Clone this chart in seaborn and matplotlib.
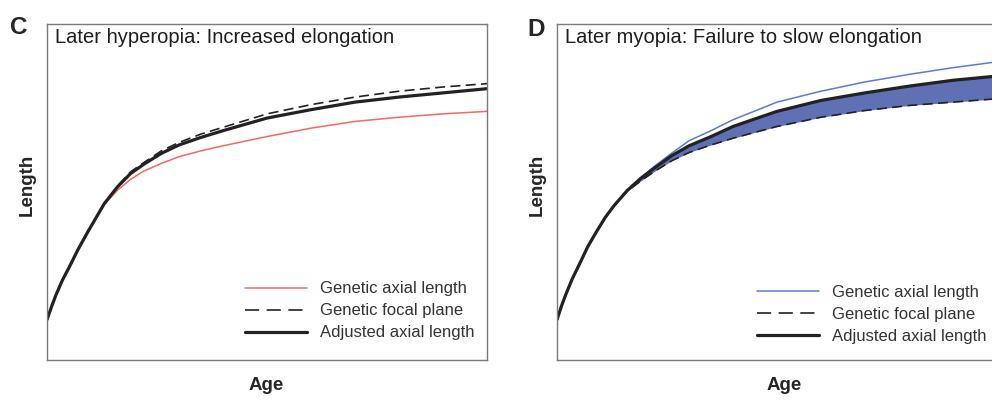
import numpy as np
import pandas as pd
import matplotlib
matplotlib.use("Agg")
import matplotlib.pyplot as plt
import seaborn as sns

# ---- data ----
age = [0, 0.1, 0.2, 0.35, 0.5, 0.7, 0.9, 1.1, 1.3, 1.6, 1.9, 2.2, 2.6, 3.0, 3.5, 4.0, 5.0, 6.0, 7.0, 8.0, 9.0, 10.0]

# Panel C: later hyperopia
c_genetic_axial = [0.48, 0.63, 0.77, 0.95, 1.10, 1.31, 1.50, 1.68, 1.85, 2.02, 2.15, 2.25, 2.34, 2.42, 2.49, 2.55, 2.66, 2.76, 2.84, 2.89, 2.93, 2.96]
c_genetic_focal = [0.48, 0.63, 0.77, 0.95, 1.10, 1.31, 1.50, 1.68, 1.86, 2.07, 2.24, 2.35, 2.49, 2.59, 2.69, 2.77, 2.93, 3.04, 3.13, 3.20, 3.25, 3.29]
c_adjusted_axial = [0.48, 0.63, 0.77, 0.95, 1.10, 1.31, 1.50, 1.68, 1.86, 2.06, 2.22, 2.33, 2.46, 2.56, 2.65, 2.73, 2.88, 2.98, 3.07, 3.13, 3.18, 3.23]

# Panel D: later myopia
d_genetic_axial = [0.48, 0.64, 0.78, 0.97, 1.13, 1.35, 1.53, 1.70, 1.84, 2.02, 2.17, 2.30, 2.46, 2.61, 2.73, 2.86, 3.07, 3.20, 3.31, 3.40, 3.48, 3.55]
d_genetic_focal = [0.48, 0.64, 0.78, 0.97, 1.13, 1.35, 1.53, 1.70, 1.84, 2.01, 2.13, 2.24, 2.37, 2.47, 2.56, 2.64, 2.78, 2.89, 2.97, 3.03, 3.07, 3.11]
d_adjusted_axial = [0.48, 0.64, 0.78, 0.97, 1.13, 1.35, 1.53, 1.70, 1.84, 2.02, 2.16, 2.28, 2.43, 2.55, 2.66, 2.78, 2.96, 3.09, 3.18, 3.26, 3.33, 3.38]

panel_letters = ["C", "D"]
panel_titles = ["Later hyperopia: Increased elongation", "Later myopia: Failure to slow elongation"]
legend_labels = ["Genetic axial length", "Genetic focal plane", "Adjusted axial length"]
x_label = "Age"
y_label = "Length"

# ---- style ----
sns.set_style("white")
plt.rcParams["font.family"] = ["Liberation Sans", "DejaVu Sans"]

RED = "#f26a62"
BLUE = "#5b7bcc"
FILL = "#6070b4"
DARK = "#222222"
SPINE = "#7a7a7a"

W, H = 992, 405
fig = plt.figure(figsize=(W / 100, H / 100), dpi=100)

def px_axes(left, top, width, height):
    return fig.add_axes([left / W, 1 - (top + height) / H, width / W, height / H])

axC = px_axes(47, 24, 440, 336)
axD = px_axes(557, 24, 440, 336)

dfC = pd.DataFrame({"age": age, "ga": c_genetic_axial, "gf": c_genetic_focal, "aa": c_adjusted_axial})
dfD = pd.DataFrame({"age": age, "ga": d_genetic_axial, "gf": d_genetic_focal, "aa": d_adjusted_axial})

DATA_DASH = (6, 3.2)

# Panel C
sns.lineplot(data=dfC, x="age", y="ga", ax=axC, color=RED, lw=1.1, label=legend_labels[0])
sns.lineplot(data=dfC, x="age", y="gf", ax=axC, color=DARK, lw=1.2, label=legend_labels[1])
axC.lines[-1].set_dashes(DATA_DASH)
sns.lineplot(data=dfC, x="age", y="aa", ax=axC, color=DARK, lw=2.3, label=legend_labels[2])

# Panel D
axD.fill_between(dfD["age"], dfD["gf"], dfD["aa"], color=FILL, lw=0, zorder=1)
sns.lineplot(data=dfD, x="age", y="ga", ax=axD, color=BLUE, lw=1.1, label=legend_labels[0])
sns.lineplot(data=dfD, x="age", y="gf", ax=axD, color=DARK, lw=1.2, label=legend_labels[1])
axD.lines[-1].set_dashes(DATA_DASH)
sns.lineplot(data=dfD, x="age", y="aa", ax=axD, color=DARK, lw=2.3, label=legend_labels[2])

for ax, title in zip([axC, axD], panel_titles):
    ax.set_xlim(0, 10)
    ax.set_ylim(0, 4)
    ax.set_xlabel("")
    ax.set_ylabel("")
    ax.set_xticks([])
    ax.set_yticks([])
    for s in ax.spines.values():
        s.set_color(SPINE)
        s.set_linewidth(1.0)
        s.set_visible(True)
    ax.text(0.018, 0.988, title, transform=ax.transAxes, ha="left", va="top",
            fontsize=14.5, color="#1e1e1e")

axC.set_yticks([1, 2, 3])
axC.set_yticklabels([])
axC.tick_params(axis="y", length=2, direction="in", color="#555555")

# legends
for ax, anchor in [(axC, (0.45, 0.146)), (axD, (0.4545, 0.135))]:
    leg = ax.legend(loc="center left", bbox_to_anchor=anchor, frameon=False,
                    fontsize=12, handlelength=3.7, handletextpad=0.8,
                    labelspacing=0.42, borderpad=0, borderaxespad=0)
    for t in leg.get_texts():
        t.set_color("#333333")
    leg.legend_handles[1].set_dashes((8.5, 4.5))

# panel letters, axis labels
fig.text(10 / W, 1 - 28 / H, panel_letters[0], fontsize=17.5, fontweight="bold", va="center", ha="left")
fig.text(527 / W, 1 - 29 / H, panel_letters[1], fontsize=17.5, fontweight="bold", va="center", ha="left")
for cx in [27, 537]:
    fig.text(cx / W, 1 - 185 / H, y_label, rotation=90, fontsize=13.5, fontweight="bold", ha="center", va="center")
for cx in [266, 784]:
    fig.text(cx / W, 1 - 386 / H, x_label, fontsize=13.5, fontweight="bold", ha="center", va="center")

fig.savefig("out.png", dpi=100)
